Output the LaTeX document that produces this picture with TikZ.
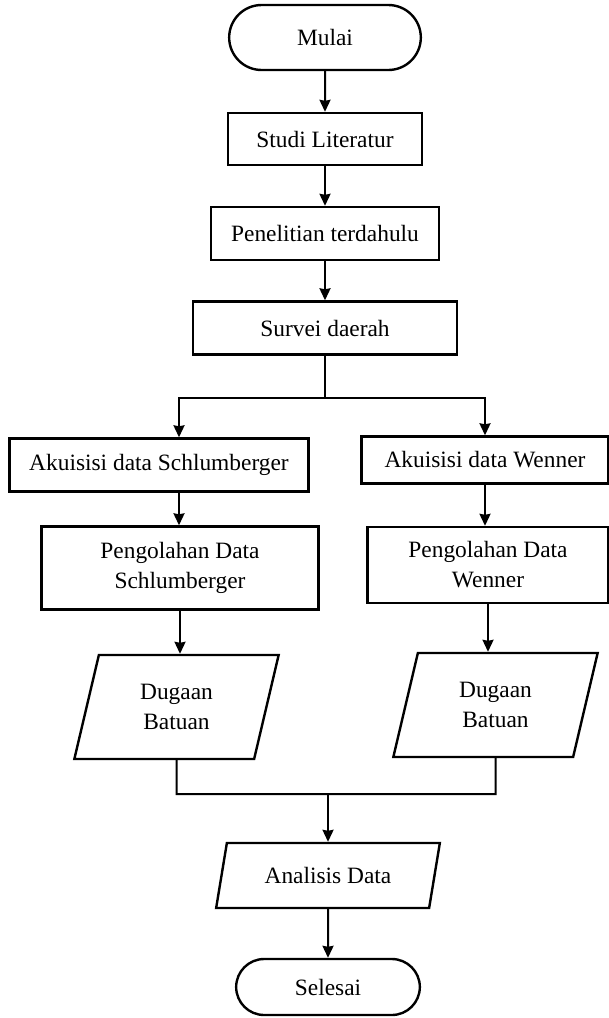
\documentclass[tikz,border=0pt]{standalone}
\usepackage{fontspec}
\setmainfont{Liberation Serif}
\usepackage{tikz}
\usetikzlibrary{arrows.meta}
\usetikzlibrary{shapes.geometric, shapes.misc, arrows}
\tikzstyle{startstop} = [rounded rectangle, minimum width=102.5pt, minimum height=32.5pt, text centered, draw=black, line width=1.2pt]
\tikzstyle{process} = [rectangle, minimum height=26.5pt, text centered, align=center, draw=black, line width=1.2pt]
\tikzstyle{io} = [trapezium, trapezium left angle=77, trapezium right angle=103, trapezium stretches=true, minimum width=102.5pt, minimum height=52pt, text centered, align=center, draw=black, line width=1.2pt]
\tikzstyle{arrow} = [line width=1pt,->,>={Stealth[length=6pt,width=5.5pt,inset=0.5pt]}]
\tikzstyle{line} = [line width=1pt]

\begin{document}
\begin{tikzpicture}[node distance=47.25pt, font=\fontsize{11.7}{15}\selectfont]
        \useasboundingbox (0,0) rectangle (304.5pt,-509pt);
        \node (start) [startstop] at (162.5pt,-18.75pt) {Mulai};
        \node (studi) [process, minimum width=97pt, minimum height=26pt, below of=start, node distance=50.75pt] {Studi Literatur};
        \node (terdahulu) [process, minimum width=114pt, below of=studi] {Penelitian terdahulu};
        \node (survei) [process, minimum width=132pt, below of=terdahulu] {Survei daerah};
        \node (akuisisiS) [process, minimum width=149.5pt, below of=survei, node distance=68.5pt, xshift=-83pt] {Akuisisi data Schlumberger};
        \node (akuisisiW) [process, minimum width=123.5pt, minimum height=23.5pt, below of=survei, node distance=66pt, xshift=80pt] {Akuisisi data Wenner};
        \node (olahS) [process, minimum width=138.5pt, minimum height=41.5pt, below of=akuisisiS, node distance=51.5pt, xshift=10.5pt] {Pengolahan Data\\Schlumberger};
        \node (olahW) [process, minimum width=120.5pt, minimum height=38pt, below of=akuisisiW, node distance=52.5pt, xshift=1.5pt] {Pengolahan Data\\Wenner};
        \node (dugaanS) [io, below of=olahS, node distance=69.5pt, xshift=-1.75pt] {Dugaan\\Batuan};
        \node (dugaanW) [io, below of=olahW, node distance=70pt, xshift=3.75pt] {Dugaan\\Batuan};
        \node (analisis) [io, minimum width=112pt, minimum height=32.5pt, trapezium left angle=76, trapezium right angle=104, below of=survei, node distance=273.75pt, xshift=1.5pt] {Analisis Data};
        \node (stop) [startstop, minimum width=98.5pt, minimum height=28pt, below of=analisis, node distance=55.75pt] {Selesai};
        \coordinate (split) at ([yshift=-35pt]survei.center);
        \coordinate (join) at ([yshift=-43.5pt]dugaanS.center);
        \draw [arrow] (start) -- (studi);
        \draw [arrow] (studi) -- (terdahulu);
        \draw [arrow] (terdahulu) -- (survei);
        \draw [line] (survei) -- (split);
        \draw [arrow] (split) -| ([xshift=10pt]akuisisiS.north);
        \draw [arrow] (split) -| (akuisisiW.north);
        \draw [arrow] ([xshift=10pt]akuisisiS.south) -- ([xshift=10pt]akuisisiS.south |- olahS.north);
        \draw [arrow] (akuisisiW.south) -- (akuisisiW.south |- olahW.north);
        \draw [arrow] (olahS.south) -- (olahS.south |- dugaanS.north);
        \draw [arrow] (olahW.south) -- (olahW.south |- dugaanW.north);
        \draw [line] (dugaanS.south) -- (join) -| (dugaanW.south);
        \draw [arrow] (join -| analisis.north) -- (analisis.north);
        \draw [arrow] (analisis) -- (stop);
    \end{tikzpicture}
\end{document}
